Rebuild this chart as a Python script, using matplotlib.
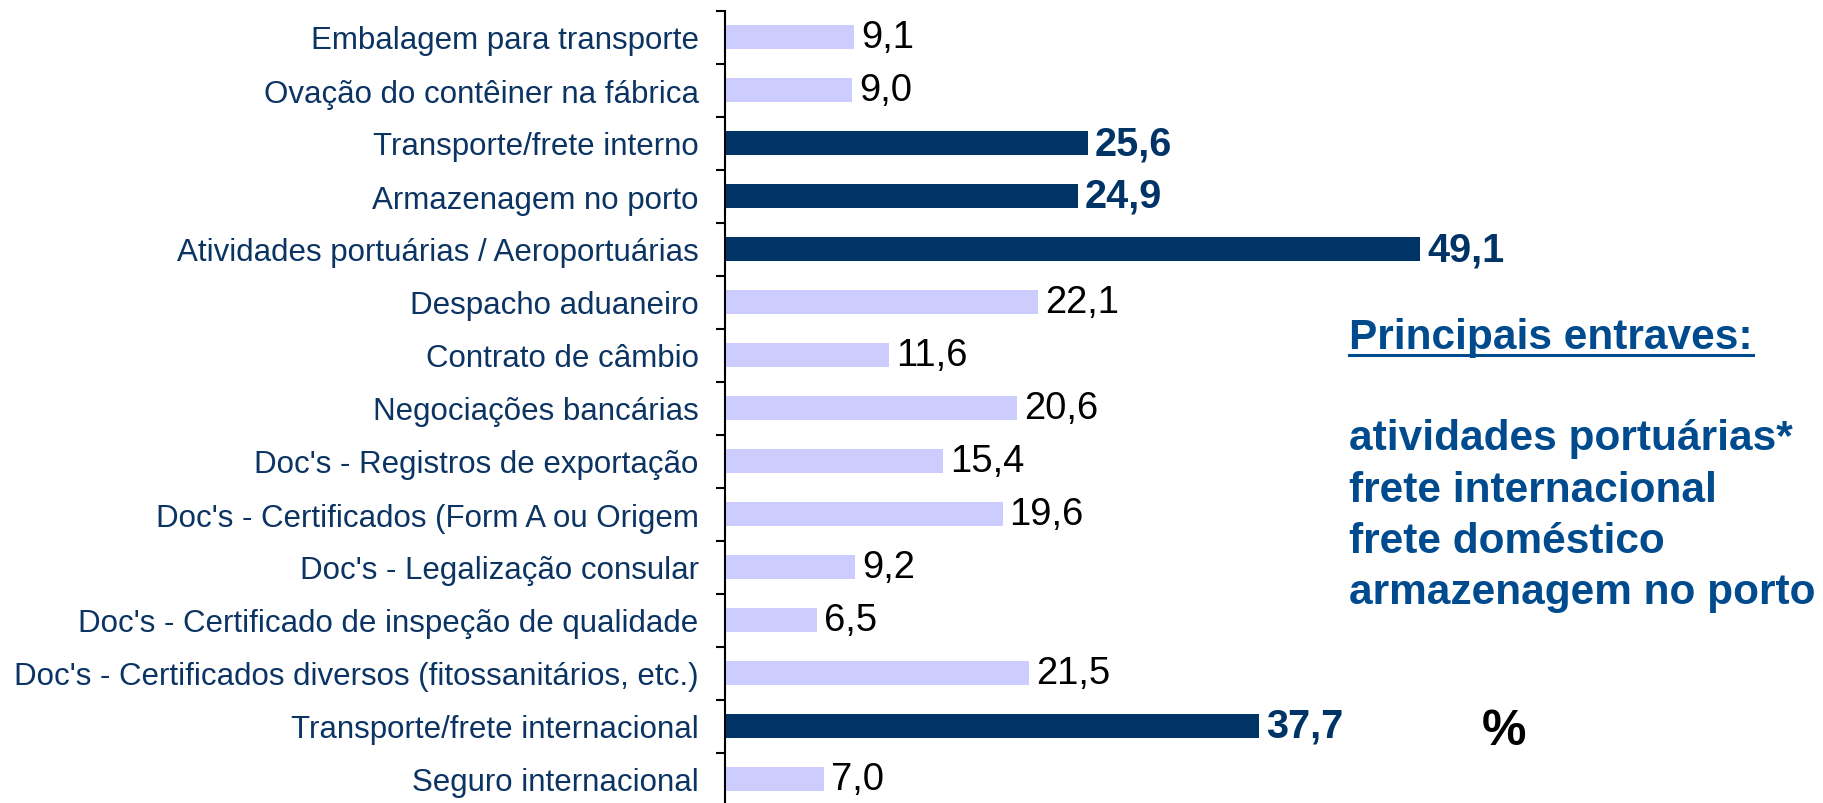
import matplotlib
matplotlib.use("Agg")
import matplotlib.pyplot as plt
from matplotlib.lines import Line2D

categories = [
    "Embalagem para transporte",
    "Ovação do contêiner na fábrica",
    "Transporte/frete interno",
    "Armazenagem no porto",
    "Atividades portuárias / Aeroportuárias",
    "Despacho aduaneiro",
    "Contrato de câmbio",
    "Negociações bancárias",
    "Doc's - Registros de exportação",
    "Doc's - Certificados (Form A ou Origem",
    "Doc's - Legalização consular",
    "Doc's - Certificado de inspeção de qualidade",
    "Doc's - Certificados diversos (fitossanitários, etc.)",
    "Transporte/frete internacional",
    "Seguro internacional",
]
values = [9.1, 9.0, 25.6, 24.9, 49.1, 22.1, 11.6, 20.6, 15.4, 19.6, 9.2, 6.5, 21.5, 37.7, 7.0]
highlight = [False, False, True, True, True, False, False, False, False, False,
             False, False, False, True, False]
notes_title = "Principais entraves:"
notes = ["atividades portuárias*", "frete internacional", "frete doméstico",
         "armazenagem no porto"]

light = "#CCCCFF"
dark = "#003366"
label_col = "#0B3463"
note_col = "#004A8E"

plt.rcParams["font.family"] = ["Liberation Sans", "DejaVu Sans"]

W, H = 1824, 804
fig = plt.figure(figsize=(W / 100, H / 100), dpi=100)
ax = fig.add_axes([725 / W, -2.5 / H, 1 - 725 / W, 795 / H])

ypos = list(range(len(categories)))
colors = [dark if h else light for h in highlight]
bars = ax.barh(ypos, values, height=0.44, color=colors)
ax.set_ylim(len(categories) - 0.5, -0.5)
ax.set_xlim(0, 77.6)

# value labels, comma decimal
for b, v, h in zip(bars, values, highlight):
    txt = f"{v:.1f}".replace(".", ",")
    ax.annotate(txt, (b.get_width(), b.get_y() + b.get_height() / 2),
                xytext=(5, 0), textcoords="offset points", va="center", ha="left",
                fontsize=28.5 if h else 27.5, fontweight="bold" if h else "normal",
                color=dark if h else "black")

ax.set_yticks(ypos)
ax.set_yticklabels(categories)
for i, t in enumerate(ax.get_yticklabels()):
    t.set_color(label_col)
    t.set_fontsize(22.5)
ax.tick_params(axis="y", length=0, pad=19)
ax.set_yticks([i - 0.5 for i in range(len(categories) + 1)], minor=True)
ax.tick_params(axis="y", which="minor", length=6.5, width=1.5, color="black", direction="out")
ax.set_xticks([])
for s in ["top", "right", "bottom"]:
    ax.spines[s].set_visible(False)
ax.spines["left"].set_linewidth(1.5)

t0 = fig.text(1349 / W, 1 - 349 / H, notes_title, fontsize=30.5, fontweight="bold",
              color=note_col, va="baseline", ha="left")
base = [450, 502, 553, 604]
for s, yb in zip(notes, base):
    fig.text(1349 / W, 1 - yb / H, s, fontsize=30.5, fontweight="bold",
             color=note_col, va="baseline", ha="left")
fig.text(1504 / W, 1 - 732 / H, "%", fontsize=36, fontweight="bold",
         color="black", va="center", ha="center")

fig.canvas.draw()
bb = t0.get_window_extent()
uy = 1 - 355.5 / H
fig.add_artist(Line2D([bb.x0 / W, bb.x1 / W], [uy, uy], color=note_col, linewidth=2.2))

fig.savefig("out.png", dpi=100)
